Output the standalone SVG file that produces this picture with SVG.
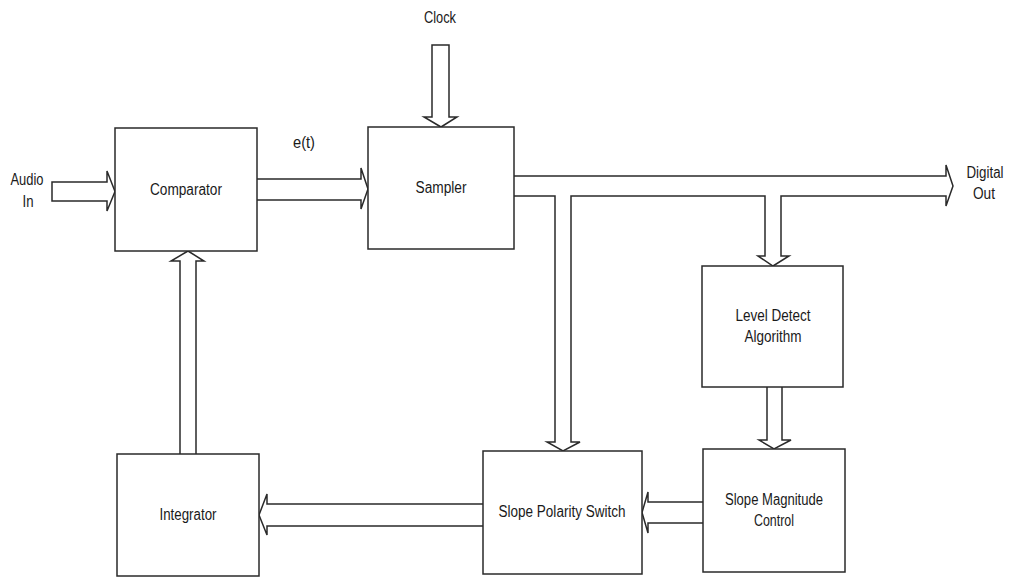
<svg xmlns="http://www.w3.org/2000/svg" width="1013" height="579" viewBox="0 0 1013 579">
<style>
.box{fill:#fff;stroke:#2a2a2a;stroke-width:1.5}
.conn path{fill:none;stroke:#2a2a2a;stroke-width:1.5;stroke-linejoin:miter}
text{font-family:"Liberation Sans",Arial,sans-serif;font-size:16px;fill:#1a1a1a;text-anchor:middle}
</style>
<rect width="1013" height="579" fill="#fff"/>
<g id="connectors" class="conn">
<path d="M52,182 H107 V171 L115,191.5 L107,211 V201 H52 Z"/>
<path d="M257,179 H361 V168 L368,189 L361,209 V200 H257"/>
<path d="M432,45 V117 H424 L441,127 L457,117 H449 V45 Z"/>
<path d="M514,176 H946 V165 L953,186 L946,206 V196 H781 V256 H789 L773,266 L758,256 H765 V196 H571 V442 H580 L563,451 L547,442 H555 V196 H514"/>
<path d="M767,387 V440 H759 L774,449 L791,440 H782 V387"/>
<path d="M703,502 H648 V492 L642,512.5 L648,533 V523 H703"/>
<path d="M483,504 H267 V494 L259,515 L267,535 V526 H483"/>
<path d="M180,454 V261 H171 L188,251 L204,261 H196 V454"/>
</g>
<g id="audio-in"><text x="27" y="185" textLength="33" lengthAdjust="spacingAndGlyphs">Audio</text><text x="28" y="207" textLength="11" lengthAdjust="spacingAndGlyphs">In</text></g>
<g id="clock"><text x="440" y="23" textLength="32" lengthAdjust="spacingAndGlyphs">Clock</text></g>
<g id="et"><text x="304" y="148" textLength="22" lengthAdjust="spacingAndGlyphs">e(t)</text></g>
<g id="digital-out"><text x="985" y="178" textLength="37" lengthAdjust="spacingAndGlyphs">Digital</text><text x="984" y="199" textLength="22" lengthAdjust="spacingAndGlyphs">Out</text></g>
<g id="comparator"><rect class="box" x="115" y="128" width="142" height="123"/><text x="186" y="195" textLength="72" lengthAdjust="spacingAndGlyphs">Comparator</text></g>
<g id="sampler"><rect class="box" x="368" y="127" width="146" height="122"/><text x="441" y="193" textLength="51" lengthAdjust="spacingAndGlyphs">Sampler</text></g>
<g id="level-detect"><rect class="box" x="702" y="266" width="141" height="121"/><text x="773" y="321" textLength="75" lengthAdjust="spacingAndGlyphs">Level Detect</text><text x="773" y="342" textLength="57" lengthAdjust="spacingAndGlyphs">Algorithm</text></g>
<g id="slope-magnitude"><rect class="box" x="703" y="449" width="142" height="123"/><text x="774" y="505" textLength="98" lengthAdjust="spacingAndGlyphs">Slope Magnitude</text><text x="774" y="526" textLength="40" lengthAdjust="spacingAndGlyphs">Control</text></g>
<g id="slope-polarity"><rect class="box" x="483" y="451" width="159" height="123"/><text x="562" y="517" textLength="127" lengthAdjust="spacingAndGlyphs">Slope Polarity Switch</text></g>
<g id="integrator"><rect class="box" x="117" y="454" width="142" height="122"/><text x="188" y="520" textLength="57" lengthAdjust="spacingAndGlyphs">Integrator</text></g>
</svg>
